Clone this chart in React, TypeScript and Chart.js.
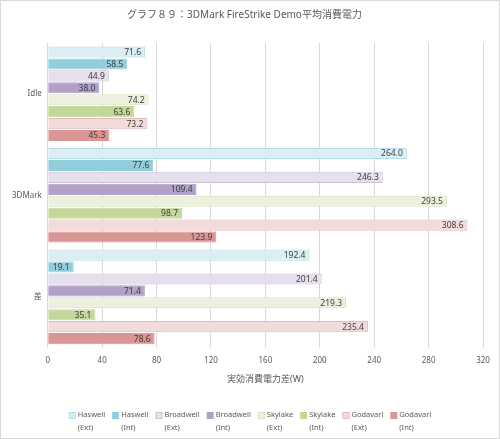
import React, { useEffect, useRef } from "react";
import { Chart, registerables } from "chart.js";

Chart.register(...registerables);

const categories = ["Idle", "3DMark", "差"];
const seriesNames = [
  ["Haswell", "(Ext)"],
  ["Haswell", "(Int)"],
  ["Broadwell", "(Ext)"],
  ["Broadwell", "(Int)"],
  ["Skylake", "(Ext)"],
  ["Skylake", "(Int)"],
  ["Godavari", "(Ext)"],
  ["Godavari", "(Int)"],
];
const haswellExt = [71.6, 264.0, 192.4];
const haswellInt = [58.5, 77.6, 19.1];
const broadwellExt = [44.9, 246.3, 201.4];
const broadwellInt = [38.0, 109.4, 71.4];
const skylakeExt = [74.2, 293.5, 219.3];
const skylakeInt = [63.6, 98.7, 35.1];
const godavariExt = [73.2, 308.6, 235.4];
const godavariInt = [45.3, 123.9, 78.6];
const seriesValues = [haswellExt, haswellInt, broadwellExt, broadwellInt, skylakeExt, skylakeInt, godavariExt, godavariInt];
const fills = ["#DAEEF3", "#92CDDC", "#E6E0EC", "#B1A0C7", "#EBF1DE", "#C4D79B", "#F2DCDB", "#DA9694"];
const borders = ["#B7DEE8", "#92CDDC", "#CCC0DA", "#B1A0C7", "#D8E4BC", "#C4D79B", "#E6B8B7", "#DA9694"];

const FONT = "'Noto Sans', 'Noto Sans CJK JP', sans-serif";
const TEXT = "#595959";

const labelPlugin = {
  id: "barLabels",
  afterDatasetsDraw(chart: any) {
    const ctx = chart.ctx;
    ctx.save();
    ctx.font = `8.5px ${FONT}`;
    ctx.fillStyle = "#404040";
    ctx.textAlign = "right";
    ctx.textBaseline = "middle";
    chart.data.datasets.forEach((ds: any, di: number) => {
      const meta = chart.getDatasetMeta(di);
      meta.data.forEach((el: any, i: number) => {
        const v = ds.data[i];
        ctx.fillText(v.toFixed(1), el.x - 4, el.y + 0.5);
      });
    });
    ctx.restore();
  },
};

const legendPlugin = {
  id: "customLegend",
  afterDraw(chart: any) {
    const ctx = chart.ctx;
    ctx.save();
    ctx.font = `7.5px ${FONT}`;
    ctx.textBaseline = "middle";
    ctx.textAlign = "left";
    const box = 6;
    const gapBox = 3;
    const gapItem = 7;
    const widths = seriesNames.map(
      (n) => box + gapBox + Math.max(...n.map((t) => ctx.measureText(t).width))
    );
    const total = widths.reduce((a, b) => a + b, 0) + gapItem * (widths.length - 1);
    let x = (chart.width - total) / 2;
    const y1 = 414;
    const y2 = 427;
    seriesNames.forEach((n, i) => {
      ctx.fillStyle = fills[i];
      ctx.fillRect(x + 0.5, y1 - box / 2 + 0.5, box, box);
      ctx.strokeStyle = borders[i];
      ctx.lineWidth = 1;
      ctx.strokeRect(x + 0.5, y1 - box / 2 + 0.5, box, box);
      ctx.fillStyle = TEXT;
      ctx.fillText(n[0], x + box + gapBox, y1);
      ctx.fillText(n[1], x + box + gapBox, y2);
      x += widths[i] + gapItem;
    });
    ctx.restore();
  },
};

export default function App() {
  const ref = useRef<HTMLCanvasElement>(null);
  useEffect(() => {
    document.body.style.margin = "0";
    const chart = new Chart(ref.current!, {
      type: "bar",
      data: {
        labels: categories,
        datasets: seriesValues.map((vals, i) => ({
          label: seriesNames[i].join(" "),
          data: vals,
          backgroundColor: fills[i],
          borderColor: borders[i],
          borderWidth: 1,
          categoryPercentage: 0.94,
          barPercentage: 0.93,
        })),
      },
      options: {
        indexAxis: "y",
        animation: false,
        responsive: false,
        maintainAspectRatio: false,
        layout: { padding: { left: 5, right: 16, top: 0, bottom: 53 } },
        scales: {
          x: {
            min: 0,
            max: 320,
            ticks: { stepSize: 40, color: TEXT, font: { family: FONT, size: 8 }, padding: 8 },
            grid: { color: "#D9D9D9", drawTicks: false },
            border: { display: false },
            title: {
              display: true,
              text: "実効消費電力差(W)",
              color: TEXT,
              font: { family: FONT, size: 9 },
              padding: { top: 1, bottom: 0 },
            },
          },
          y: {
            ticks: { color: TEXT, font: { family: FONT, size: 8 }, padding: 6 },
            grid: { display: false, drawTicks: false },
            border: { display: false },
          },
        },
        plugins: {
          title: {
            display: true,
            text: "グラフ８９：3DMark FireStrike Demo平均消費電力",
            color: TEXT,
            font: { family: FONT, size: 10, weight: "normal" },
            padding: { top: 8, bottom: 22 },
          },
          legend: { display: false },
          tooltip: { enabled: false },
        },
      },
      plugins: [labelPlugin, legendPlugin],
    });
    return () => chart.destroy();
  }, []);
  return (
    <div style={{ width: 500, height: 439, boxSizing: "border-box", border: "1px solid #D9D9D9", background: "#fff" }}>
      <canvas ref={ref} width={498} height={437} style={{ display: "block" }} />
    </div>
  );
}
